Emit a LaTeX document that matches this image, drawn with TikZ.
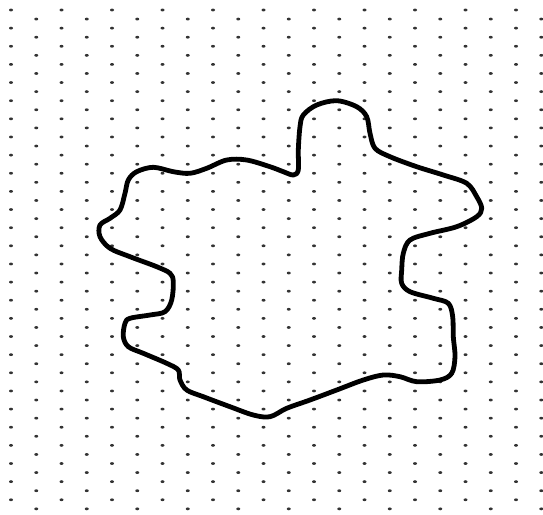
\documentclass[tikz,border=0pt]{standalone}
\usepackage{tikz}
\usetikzlibrary{positioning}
\usepackage{amsmath}

\begin{document}
\begin{tikzpicture}[x=1pt, y=-1pt,
		griddot/.style={fill=black!80},
		outline/.style={line width=4.8pt, line join=round, draw=black}]
				\useasboundingbox[fill=white] (0,0) rectangle (543,514);
				% Dot paper
				\foreach \j in {0,...,55}{
					\pgfmathsetmacro{\yy}{10+9.07*\j}
					\pgfmathsetmacro{\xs}{isodd(\j) ? 36.25 : 11}
					\foreach \k in {0,...,10}{
						\fill[griddot] (\xs+50.5*\k,\yy) ellipse (2pt and 1.4pt);
					}
				}
				% Region's outline
				\draw[outline] plot[smooth cycle, tension=0.55] coordinates {
					(336.7,100.7) (356.7,106.7) (366.7,116.7) (370,133.3) (375,148.3)
					(390,156.7) (416.7,166.7) (443.3,175) (466.7,183.3) (476.7,196.7)
					(481.7,208.3) (476.7,216.7) (456.7,226.7) (430,233.3) (410,240)
					(403.3,253.3) (401.7,270) (401.7,283.3) (410,291.7) (433.3,298.3)
					(448.3,303.3) (452.7,316.7) (453.3,336.7) (455,356.7) (451.7,373.3)
					(440,380) (416.7,381.7) (400,376.7) (383.3,375) (363.3,380)
					(336.7,390) (310,400) (286.7,408.3) (270,416.7) (253.3,415)
					(230,406.7) (203.3,396.7) (186.7,390) (180,380) (178.3,370)
					(166.7,363.3) (143.3,353.3) (128.3,346.7) (123.3,336.7) (125,323.3)
					(130,318.3) (150,315) (165,311.7) (171.7,300) (173.3,281.7)
					(170,273.3) (156.7,266.7) (130,256.7) (110,248.3) (100,236.7)
					(100,225) (110,218.3) (120,210) (125,193.3) (128.3,180)
					(136.7,171.7) (153.3,167.3) (173.3,171.7) (190,173.3) (206.7,168.3)
					(226.7,160) (246.7,160) (270,166.7) (283.3,171.7) (293.3,175)
					(298.3,170) (298.3,150) (300,126.7) (303.3,115) (316.7,105)
				};
\end{tikzpicture}
\end{document}
